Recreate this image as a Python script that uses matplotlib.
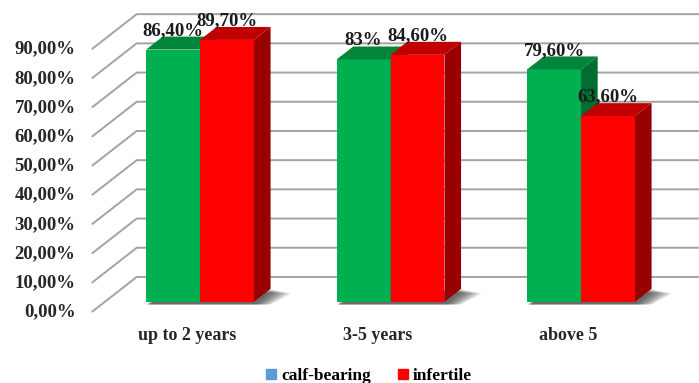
import matplotlib
matplotlib.use("Agg")
import matplotlib.pyplot as plt
from matplotlib.patches import Polygon
from matplotlib.lines import Line2D

# data
categories = ["up to 2 years", "3-5 years", "above 5"]
calf_bearing = [86.4, 83.0, 79.6]
infertile = [89.7, 84.6, 63.6]
calf_labels = ["86,40%", "83%", "79,60%"]
infertile_labels = ["89,70%", "84,60%", "63,60%"]
yticks = [0, 10, 20, 30, 40, 50, 60, 70, 80, 90]
ytick_labels = ["0,00%", "10,00%", "20,00%", "30,00%", "40,00%", "50,00%",
                "60,00%", "70,00%", "80,00%", "90,00%"]

# fake 3d: depth vector (x units, % units), bar slab between t0 and t1
DX, DV = 0.236, 12.0
T0, T1 = 0.29, 0.66
W = 0.283
WALL = (-0.5, 2.5)
GRID = "#A3A3A3"
FONT = dict(family="Liberation Serif", weight="bold")

series = [
    (calf_bearing, calf_labels, -W, ("#00B050", "#00853B", "#006E30")),
    (infertile, infertile_labels, 0.0, ("#FF0000", "#C00000", "#990000")),
]


def proj(x, v, t):
    return x + t * DX, v + t * DV


fig = plt.figure(figsize=(6.99, 3.83), dpi=100)
ax = fig.add_axes([0, 0, 1, 1])
ax.set_xlim(-187 / 190.5, (699 - 187) / 190.5)
ax.set_ylim(-71 / 2.92, 312 / 2.92)
ax.axis("off")

# walls: diagonal side lines + back wall lines
for v, lab in zip(yticks, ytick_labels):
    x0, y0 = proj(WALL[0], v, 0)
    x1, y1 = proj(WALL[0], v, 1)
    x2, y2 = proj(WALL[1], v, 1)
    ax.plot([x0, x1, x2], [y0, y1, y2], color=GRID, lw=1.4, zorder=1,
            solid_capstyle="butt")
    ax.text(x0 - 0.085, v, lab, ha="right", va="center", fontsize=13.5,
            color="#262626", **FONT)

# soft shadows on the floor
for i in range(len(categories)):
    xl, xr = i - W, i + W
    for k in range(8):
        s = 0.011 * (k + 1)
        pts = [proj(xl + s * 0.2, -0.9, T0), proj(xr + s, -0.9, T0),
               proj(xr + s * 1.5, -0.3, T1 - 0.015 * k), proj(xl + s, 0, T1)]
        ax.add_patch(Polygon(pts, closed=True, facecolor="#262626",
                             edgecolor="none", alpha=0.13, zorder=2))

# bars
for vals, labs, off, (cf, ct, cs) in series:
    for i, (v, lab) in enumerate(zip(vals, labs)):
        xl = i + off
        xr = xl + W
        fx, fy = proj(xl, 0, T0)
        ax.bar(fx, v, width=W, bottom=fy, align="edge", color=cf,
               edgecolor="none", zorder=3)
        top = [proj(xl, v, T0), proj(xr, v, T0), proj(xr, v, T1), proj(xl, v, T1)]
        ax.add_patch(Polygon(top, closed=True, facecolor=ct, edgecolor="none", zorder=3))
        side = [proj(xr, 0, T0), proj(xr, v, T0), proj(xr, v, T1), proj(xr, 0, T1)]
        ax.add_patch(Polygon(side, closed=True, facecolor=cs, edgecolor="none", zorder=3))
        lx, ly = proj(xl + W / 2, v + 6.5, T0)
        ax.text(lx, ly, lab, ha="center", va="center", fontsize=13.5,
                color="#1a1a1a", zorder=5, **FONT)

# category labels
for i, cat in enumerate(categories):
    ax.text(i, -8.2, cat, ha="center", va="center", fontsize=13,
            color="#262626", **FONT)

handles = [Line2D([], [], marker="s", ls="none", color="#5B9BD5", markersize=7),
           Line2D([], [], marker="s", ls="none", color="#FF0000", markersize=7)]
fig.legend(handles, ["calf-bearing", "infertile"], loc="center",
           bbox_to_anchor=(369 / 699, 1 - 376 / 383), ncol=2, frameon=False,
           handlelength=0.6, handletextpad=0.3, columnspacing=1.5,
           prop=dict(family="Liberation Serif", weight="bold", size=12.5))

fig.savefig("out.png", dpi=100)
